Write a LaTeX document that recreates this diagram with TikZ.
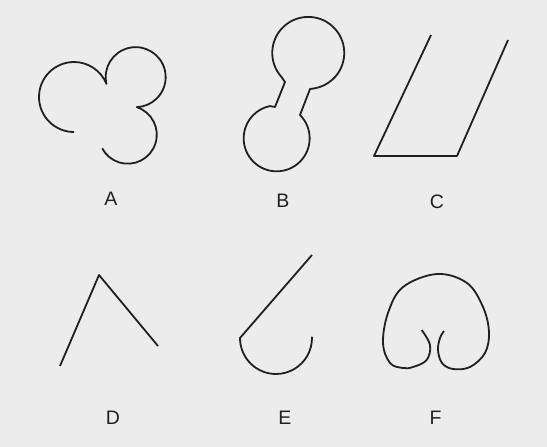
\documentclass[tikz,border=0pt]{standalone}
\usepackage{fontspec}
\setmainfont{Liberation Sans}
\usepackage{tikz}
\definecolor{figbg}{RGB}{236,236,236}
\definecolor{figink}{RGB}{32,32,32}

\begin{document}
\begin{tikzpicture}[x=1pt,y=-1pt,
  curve/.style={draw=figink,line width=1.8pt,line join=round},
  letter/.style={font=\fontsize{19.5}{24}\selectfont,text=figink,inner sep=0pt}]

  \fill[figbg] (0,0) rectangle (547,447);
  \useasboundingbox (0,0) rectangle (547,447);

  % A: three circular lobes
  \draw[curve] (74,132) arc[start angle=90,end angle=338,radius=35]
                        arc[start angle=167,end angle=448,radius=30]
                        arc[start angle=-72,end angle=152,radius=29];

  % B: two circles joined by a neck
  \draw[curve] (285,82) -- (281.5,77) arc[start angle=138,end angle=440,radius=36]
               -- (310,89) -- (300,115) arc[start angle=-45,end angle=258,radius=33]
               -- (275,107) -- cycle;

  % C
  \draw[curve] (431,35) -- (374,156) -- (457,156) -- (508,40);

  % D
  \draw[curve] (60,366) -- (99,275) -- (158,346);

  % E
  \draw[curve] (312,255) -- (240,338) arc[start angle=180,end angle=-2,radius=36];

  % F
  \draw[curve] plot[smooth,tension=0.6] coordinates {
    (421.7,330) (430,345) (426.7,360) (413,367) (403,368) (390,363) (383,343)
    (388,313) (403,287) (437,274) (467,283) (483,307) (489,332) (485,353)
    (470,367) (453,369) (442,363) (438,350) (440,338) (444,331)};

  \node[letter] (labA) at (111,199) {A};
  \node[letter] (labB) at (283,201) {B};
  \node[letter] (labC) at (437,202) {C};
  \node[letter] (labD) at (113,418) {D};
  \node[letter] (labE) at (285,418) {E};
  \node[letter] (labF) at (435.5,418) {F};

\end{tikzpicture}
\end{document}
